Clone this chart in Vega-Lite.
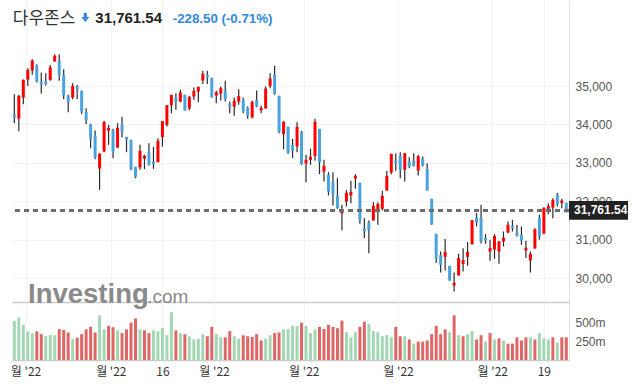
{
  "$schema": "https://vega.github.io/schema/vega-lite/v6.json",
  "padding": {"left": 10, "top": 0, "right": 0, "bottom": 0},
  "background": "white",
  "config": {"view": {"stroke": null}, "font": "Liberation Sans", "scale": {"continuousPadding": 0}},
  "datasets": {
    "ohlc": [
      {"i":0,"t":"01-27","o":34276,"h":34788,"l":34033,"c":34189,"d":"down","v":518,"vd":"g"},
      {"i":1,"t":"01-28","o":34155,"h":34771,"l":33825,"c":34745,"d":"up","v":565,"vd":"g"},
      {"i":2,"t":"01-31","o":34701,"h":35170,"l":34528,"c":35162,"d":"up","v":468,"vd":"g"},
      {"i":3,"t":"02-01","o":35170,"h":35465,"l":35000,"c":35422,"d":"up","v":380,"vd":"g"},
      {"i":4,"t":"02-02","o":35405,"h":35700,"l":35292,"c":35665,"d":"up","v":357,"vd":"g"},
      {"i":5,"t":"02-03","o":35544,"h":35570,"l":35092,"c":35118,"d":"down","v":380,"vd":"r"},
      {"i":6,"t":"02-04","o":35110,"h":35353,"l":34806,"c":35040,"d":"down","v":343,"vd":"r"},
      {"i":7,"t":"02-07","o":35127,"h":35335,"l":35014,"c":35057,"d":"down","v":315,"vd":"g"},
      {"i":8,"t":"02-08","o":35162,"h":35552,"l":35136,"c":35491,"d":"up","v":329,"vd":"g"},
      {"i":9,"t":"02-09","o":35639,"h":35830,"l":35639,"c":35787,"d":"up","v":329,"vd":"g"},
      {"i":10,"t":"02-10","o":35656,"h":35830,"l":35136,"c":35274,"d":"down","v":412,"vd":"r"},
      {"i":11,"t":"02-11","o":35292,"h":35439,"l":34658,"c":34754,"d":"down","v":398,"vd":"r"},
      {"i":12,"t":"02-14","o":34728,"h":34771,"l":34320,"c":34580,"d":"down","v":366,"vd":"r"},
      {"i":13,"t":"02-15","o":34702,"h":35075,"l":34658,"c":35005,"d":"up","v":282,"vd":"g"},
      {"i":14,"t":"02-16","o":34988,"h":35031,"l":34658,"c":34910,"d":"down","v":296,"vd":"r"},
      {"i":15,"t":"02-17","o":34875,"h":34884,"l":34268,"c":34337,"d":"down","v":343,"vd":"r"},
      {"i":16,"t":"02-18","o":34328,"h":34424,"l":34007,"c":34111,"d":"down","v":407,"vd":"r"},
      {"i":17,"t":"02-22","o":33998,"h":34016,"l":33382,"c":33617,"d":"down","v":440,"vd":"r"},
      {"i":18,"t":"02-23","o":33712,"h":33842,"l":33096,"c":33139,"d":"down","v":366,"vd":"r"},
      {"i":19,"t":"02-24","o":32853,"h":33243,"l":32297,"c":33243,"d":"up","v":593,"vd":"g"},
      {"i":20,"t":"02-25","o":33295,"h":34094,"l":33278,"c":34068,"d":"up","v":407,"vd":"g"},
      {"i":21,"t":"02-28","o":33842,"h":33990,"l":33469,"c":33912,"d":"up","v":454,"vd":"r"},
      {"i":22,"t":"03-01","o":33842,"h":33886,"l":33122,"c":33295,"d":"down","v":435,"vd":"r"},
      {"i":23,"t":"03-02","o":33400,"h":34033,"l":33382,"c":33912,"d":"up","v":393,"vd":"g"},
      {"i":24,"t":"03-03","o":33990,"h":34198,"l":33660,"c":33808,"d":"down","v":357,"vd":"r"},
      {"i":25,"t":"03-04","o":33677,"h":33677,"l":33278,"c":33608,"d":"down","v":407,"vd":"r"},
      {"i":26,"t":"03-07","o":33599,"h":33599,"l":32809,"c":32827,"d":"down","v":495,"vd":"r"},
      {"i":27,"t":"03-08","o":32896,"h":32896,"l":32601,"c":32636,"d":"down","v":551,"vd":"r"},
      {"i":28,"t":"03-09","o":32879,"h":33469,"l":32818,"c":33313,"d":"up","v":407,"vd":"g"},
      {"i":29,"t":"03-10","o":33113,"h":33209,"l":32835,"c":33183,"d":"up","v":393,"vd":"r"},
      {"i":30,"t":"03-11","o":33278,"h":33512,"l":32931,"c":32948,"d":"down","v":357,"vd":"r"},
      {"i":31,"t":"03-14","o":33026,"h":33417,"l":32844,"c":32966,"d":"down","v":393,"vd":"g"},
      {"i":32,"t":"03-15","o":33018,"h":33642,"l":33018,"c":33573,"d":"up","v":380,"vd":"g"},
      {"i":33,"t":"03-16","o":33669,"h":34085,"l":33426,"c":34085,"d":"up","v":426,"vd":"g"},
      {"i":34,"t":"03-17","o":33990,"h":34502,"l":33946,"c":34502,"d":"up","v":329,"vd":"g"},
      {"i":35,"t":"03-18","o":34502,"h":34771,"l":34294,"c":34771,"d":"up","v":634,"vd":"g"},
      {"i":36,"t":"03-21","o":34693,"h":34814,"l":34380,"c":34580,"d":"down","v":393,"vd":"r"},
      {"i":37,"t":"03-22","o":34597,"h":34901,"l":34580,"c":34832,"d":"up","v":357,"vd":"g"},
      {"i":38,"t":"03-23","o":34771,"h":34771,"l":34363,"c":34363,"d":"down","v":343,"vd":"r"},
      {"i":39,"t":"03-24","o":34415,"h":34745,"l":34372,"c":34719,"d":"up","v":315,"vd":"g"},
      {"i":40,"t":"03-25","o":34728,"h":34962,"l":34641,"c":34875,"d":"up","v":273,"vd":"g"},
      {"i":41,"t":"03-28","o":34858,"h":34979,"l":34580,"c":34979,"d":"up","v":282,"vd":"g"},
      {"i":42,"t":"03-29","o":35144,"h":35396,"l":35057,"c":35318,"d":"up","v":343,"vd":"g"},
      {"i":43,"t":"03-30","o":35292,"h":35396,"l":35057,"c":35222,"d":"down","v":315,"vd":"r"},
      {"i":44,"t":"03-31","o":35214,"h":35214,"l":34702,"c":34702,"d":"down","v":440,"vd":"r"},
      {"i":45,"t":"04-01","o":34754,"h":34875,"l":34554,"c":34840,"d":"up","v":343,"vd":"g"},
      {"i":46,"t":"04-04","o":34806,"h":34988,"l":34623,"c":34944,"d":"up","v":301,"vd":"g"},
      {"i":47,"t":"04-05","o":34901,"h":35136,"l":34597,"c":34658,"d":"down","v":301,"vd":"r"},
      {"i":48,"t":"04-06","o":34528,"h":34597,"l":34294,"c":34458,"d":"down","v":384,"vd":"r"},
      {"i":49,"t":"04-07","o":34467,"h":34702,"l":34224,"c":34615,"d":"up","v":315,"vd":"g"},
      {"i":50,"t":"04-08","o":34597,"h":34918,"l":34511,"c":34736,"d":"up","v":282,"vd":"g"},
      {"i":51,"t":"04-11","o":34641,"h":34702,"l":34294,"c":34337,"d":"down","v":329,"vd":"r"},
      {"i":52,"t":"04-12","o":34432,"h":34467,"l":34146,"c":34233,"d":"down","v":315,"vd":"r"},
      {"i":53,"t":"04-13","o":34181,"h":34615,"l":34163,"c":34589,"d":"up","v":306,"vd":"r"},
      {"i":54,"t":"04-14","o":34641,"h":34884,"l":34450,"c":34467,"d":"down","v":343,"vd":"r"},
      {"i":55,"t":"04-18","o":34372,"h":34493,"l":34294,"c":34432,"d":"up","v":259,"vd":"r"},
      {"i":56,"t":"04-19","o":34415,"h":34988,"l":34415,"c":34936,"d":"up","v":282,"vd":"g"},
      {"i":57,"t":"04-20","o":34997,"h":35335,"l":34945,"c":35196,"d":"up","v":329,"vd":"g"},
      {"i":58,"t":"04-21","o":35292,"h":35526,"l":34771,"c":34797,"d":"down","v":357,"vd":"r"},
      {"i":59,"t":"04-22","o":34745,"h":34745,"l":33773,"c":33807,"d":"down","v":366,"vd":"r"},
      {"i":60,"t":"04-25","o":33747,"h":34094,"l":33356,"c":34068,"d":"up","v":407,"vd":"g"},
      {"i":61,"t":"04-26","o":33938,"h":33938,"l":33235,"c":33252,"d":"down","v":412,"vd":"g"},
      {"i":62,"t":"04-27","o":33469,"h":33625,"l":33122,"c":33321,"d":"down","v":454,"vd":"g"},
      {"i":63,"t":"04-28","o":33426,"h":34059,"l":33278,"c":33938,"d":"up","v":454,"vd":"g"},
      {"i":64,"t":"04-29","o":33799,"h":33834,"l":32948,"c":32974,"d":"down","v":495,"vd":"r"},
      {"i":65,"t":"05-02","o":32983,"h":33209,"l":32497,"c":33078,"d":"up","v":454,"vd":"g"},
      {"i":66,"t":"05-03","o":33078,"h":33365,"l":32948,"c":33157,"d":"up","v":357,"vd":"g"},
      {"i":67,"t":"05-04","o":33182,"h":34146,"l":33052,"c":34068,"d":"up","v":407,"vd":"g"},
      {"i":68,"t":"05-05","o":33885,"h":33885,"l":32705,"c":33018,"d":"down","v":440,"vd":"r"},
      {"i":69,"t":"05-06","o":32774,"h":33078,"l":32514,"c":32922,"d":"up","v":412,"vd":"r"},
      {"i":70,"t":"05-09","o":32688,"h":32757,"l":32150,"c":32254,"d":"down","v":468,"vd":"r"},
      {"i":71,"t":"05-10","o":32506,"h":32757,"l":31889,"c":32167,"d":"down","v":440,"vd":"r"},
      {"i":72,"t":"05-11","o":32141,"h":32601,"l":31802,"c":31820,"d":"down","v":421,"vd":"r"},
      {"i":73,"t":"05-12","o":31681,"h":31906,"l":31247,"c":31759,"d":"up","v":523,"vd":"r"},
      {"i":74,"t":"05-13","o":31993,"h":32289,"l":31863,"c":32219,"d":"up","v":370,"vd":"g"},
      {"i":75,"t":"05-16","o":32150,"h":32532,"l":31950,"c":32245,"d":"up","v":301,"vd":"g"},
      {"i":76,"t":"05-17","o":32592,"h":32705,"l":32323,"c":32662,"d":"up","v":370,"vd":"g"},
      {"i":77,"t":"05-18","o":32480,"h":32480,"l":31412,"c":31499,"d":"down","v":440,"vd":"r"},
      {"i":78,"t":"05-19","o":31282,"h":31559,"l":31039,"c":31212,"d":"down","v":509,"vd":"r"},
      {"i":79,"t":"05-20","o":31438,"h":31499,"l":30648,"c":31256,"d":"down","v":481,"vd":"g"},
      {"i":80,"t":"05-23","o":31499,"h":31976,"l":31499,"c":31881,"d":"up","v":384,"vd":"g"},
      {"i":81,"t":"05-24","o":31724,"h":31976,"l":31386,"c":31924,"d":"up","v":370,"vd":"g"},
      {"i":82,"t":"05-25","o":31803,"h":32271,"l":31759,"c":32141,"d":"up","v":315,"vd":"g"},
      {"i":83,"t":"05-26","o":32280,"h":32792,"l":32280,"c":32662,"d":"up","v":329,"vd":"g"},
      {"i":84,"t":"05-27","o":32749,"h":33235,"l":32705,"c":33235,"d":"up","v":301,"vd":"g"},
      {"i":85,"t":"05-31","o":33052,"h":33252,"l":32792,"c":32983,"d":"down","v":440,"vd":"r"},
      {"i":86,"t":"06-01","o":33182,"h":33278,"l":32601,"c":32818,"d":"down","v":315,"vd":"r"},
      {"i":87,"t":"06-02","o":32818,"h":33252,"l":32514,"c":33252,"d":"up","v":315,"vd":"g"},
      {"i":88,"t":"06-03","o":33035,"h":33148,"l":32861,"c":32896,"d":"down","v":273,"vd":"r"},
      {"i":89,"t":"06-06","o":33061,"h":33252,"l":32905,"c":32931,"d":"down","v":217,"vd":"g"},
      {"i":90,"t":"06-07","o":32801,"h":33209,"l":32671,"c":33174,"d":"up","v":245,"vd":"r"},
      {"i":91,"t":"06-08","o":33104,"h":33165,"l":32905,"c":32931,"d":"down","v":245,"vd":"r"},
      {"i":92,"t":"06-09","o":32844,"h":32992,"l":32280,"c":32280,"d":"down","v":259,"vd":"r"},
      {"i":93,"t":"06-10","o":32063,"h":32063,"l":31386,"c":31395,"d":"down","v":343,"vd":"r"},
      {"i":94,"t":"06-13","o":31151,"h":31151,"l":30388,"c":30509,"d":"down","v":454,"vd":"r"},
      {"i":95,"t":"06-14","o":30596,"h":30691,"l":30144,"c":30344,"d":"down","v":343,"vd":"r"},
      {"i":96,"t":"06-15","o":30552,"h":31013,"l":30197,"c":30674,"d":"up","v":407,"vd":"r"},
      {"i":97,"t":"06-16","o":30318,"h":30318,"l":29928,"c":29936,"d":"down","v":370,"vd":"g"},
      {"i":98,"t":"06-17","o":29806,"h":30144,"l":29650,"c":29875,"d":"up","v":593,"vd":"r"},
      {"i":99,"t":"06-21","o":30066,"h":30630,"l":30066,"c":30518,"d":"up","v":329,"vd":"g"},
      {"i":100,"t":"06-22","o":30362,"h":30778,"l":30171,"c":30466,"d":"up","v":315,"vd":"r"},
      {"i":101,"t":"06-23","o":30552,"h":30934,"l":30318,"c":30683,"d":"up","v":343,"vd":"g"},
      {"i":102,"t":"06-24","o":30882,"h":31507,"l":30865,"c":31507,"d":"up","v":384,"vd":"g"},
      {"i":103,"t":"06-27","o":31577,"h":31690,"l":31342,"c":31455,"d":"down","v":273,"vd":"r"},
      {"i":104,"t":"06-28","o":31559,"h":31907,"l":30900,"c":30952,"d":"down","v":329,"vd":"r"},
      {"i":105,"t":"06-29","o":31047,"h":31143,"l":30891,"c":30978,"d":"down","v":245,"vd":"g"},
      {"i":106,"t":"06-30","o":30691,"h":30995,"l":30448,"c":30778,"d":"up","v":357,"vd":"r"},
      {"i":107,"t":"07-01","o":30743,"h":31143,"l":30500,"c":31091,"d":"up","v":273,"vd":"g"},
      {"i":108,"t":"07-05","o":30691,"h":30969,"l":30370,"c":30952,"d":"up","v":287,"vd":"r"},
      {"i":109,"t":"07-06","o":30952,"h":31212,"l":30821,"c":31047,"d":"up","v":259,"vd":"g"},
      {"i":110,"t":"07-07","o":31186,"h":31473,"l":31169,"c":31386,"d":"up","v":217,"vd":"r"},
      {"i":111,"t":"07-08","o":31360,"h":31516,"l":31212,"c":31290,"d":"down","v":217,"vd":"r"},
      {"i":112,"t":"07-11","o":31178,"h":31386,"l":31082,"c":31108,"d":"down","v":301,"vd":"r"},
      {"i":113,"t":"07-12","o":31117,"h":31342,"l":30865,"c":30978,"d":"down","v":259,"vd":"r"},
      {"i":114,"t":"07-13","o":30717,"h":30969,"l":30518,"c":30787,"d":"up","v":301,"vd":"r"},
      {"i":115,"t":"07-14","o":30457,"h":30691,"l":30144,"c":30630,"d":"up","v":301,"vd":"g"},
      {"i":116,"t":"07-15","o":30770,"h":31299,"l":30761,"c":31273,"d":"up","v":273,"vd":"r"},
      {"i":117,"t":"07-18","o":31568,"h":31646,"l":30995,"c":31082,"d":"down","v":357,"vd":"g"},
      {"i":118,"t":"07-19","o":31160,"h":31846,"l":31143,"c":31829,"d":"up","v":287,"vd":"g"},
      {"i":119,"t":"07-20","o":31802,"h":31941,"l":31664,"c":31872,"d":"up","v":273,"vd":"g"},
      {"i":120,"t":"07-21","o":31837,"h":32080,"l":31559,"c":32037,"d":"up","v":301,"vd":"r"},
      {"i":121,"t":"07-22","o":32167,"h":32219,"l":31863,"c":31924,"d":"down","v":231,"vd":"g"},
      {"i":122,"t":"07-25","o":31950,"h":32063,"l":31820,"c":32019,"d":"up","v":301,"vd":"r"},
      {"i":123,"t":"07-26","o":31959,"h":31959,"l":31707,"c":31761.54,"d":"down","v":301,"vd":"r"}
    ]
  },
  "spacing": 0,
  "bounds": "flush",
  "resolve": {"scale": {"x": "independent", "y": "independent", "color": "independent"}},
  "vconcat": [
    {
      "width": 557,
      "height": 302,
      "data": {"name": "ohlc"},
      "layer": [
        {
          "data": {"values": [{"label": "Investing"}]},
          "mark": {"type": "text", "align": "left", "baseline": "alphabetic", "font": "Liberation Sans", "fontWeight": "bold", "fontSize": 27.5, "color": "#8a8a8a"},
          "encoding": {
            "x": {"datum": 3.05, "type": "quantitative", "title": null},
            "y": {"datum": 29350, "type": "quantitative", "title": null},
            "text": {"field": "label"}
          }
        },
        {
          "data": {"values": [{"label": ".com"}]},
          "mark": {"type": "text", "align": "left", "baseline": "alphabetic", "font": "Liberation Sans", "fontSize": 19, "color": "#8a8a8a"},
          "encoding": {
            "x": {"datum": 29.6, "type": "quantitative", "title": null},
            "y": {"datum": 29350, "type": "quantitative", "title": null},
            "text": {"field": "label"}
          }
        },
        {
          "mark": {"type": "rule", "color": "#2b2b2b", "strokeWidth": 1.2},
          "encoding": {
            "x": {
              "field": "i", "type": "quantitative", "title": null,
              "scale": {"domain": [-0.52, 123.6], "nice": false, "zero": false, "padding": 0},
              "axis": {
                "orient": "bottom", "values": [2.5, 21.5, 33, 44.5, 64.5, 85.5, 106.5, 118],
                "labels": false, "ticks": false, "grid": true, "gridColor": "#f3f3f3",
                "domain": true, "domainColor": "#cccccc", "domainWidth": 1.5, "title": null
              }
            },
            "y": {
              "field": "l", "type": "quantitative", "title": null,
              "scale": {"domain": [29375, 37242], "nice": false, "zero": false},
              "axis": {
                "orient": "right", "values": [30000, 31000, 32000, 33000, 34000, 35000],
                "labelExpr": "format(datum.value, ',')",
                "ticks": false, "labelPadding": 6, "labelFontSize": 12, "labelColor": "#555555",
                "labelFont": "Liberation Sans", "grid": true, "gridColor": "#f3f3f3",
                "domain": true, "domainColor": "#dddddd", "title": null
              }
            },
            "y2": {"field": "h"}
          }
        },
        {
          "mark": {"type": "bar", "width": 3},
          "encoding": {
            "x": {"field": "i", "type": "quantitative"},
            "y": {"field": "o", "type": "quantitative"},
            "y2": {"field": "c"},
            "color": {
              "field": "d", "type": "nominal", "legend": null,
              "scale": {"domain": ["up", "down"], "range": ["#ff0000", "#4aa3df"]}
            }
          }
        },
        {
          "mark": {"type": "rule", "color": "#6e6e6e", "strokeWidth": 1.5, "strokeDash": [5, 4]},
          "encoding": {"y": {"datum": 31761.54, "type": "quantitative"}}
        },
        {
          "data": {"values": [{"label": "tag"}]},
          "mark": {"type": "point", "shape": "M0,-0.32L2,-0.32L2,0.32L0,0.32Z", "size": 3481, "filled": true, "opacity": 1, "color": "#222222", "strokeWidth": 0},
          "encoding": {
            "x": {"datum": 123.6, "type": "quantitative"},
            "y": {"datum": 31761.54, "type": "quantitative"}
          }
        },
        {
          "data": {"values": [{"label": "31,761.54"}]},
          "mark": {"type": "text", "align": "left", "baseline": "middle", "dx": 5, "font": "Liberation Sans", "fontWeight": "bold", "fontSize": 12, "color": "#ffffff"},
          "encoding": {
            "x": {"datum": 123.6, "type": "quantitative"},
            "y": {"datum": 31761.54, "type": "quantitative"},
            "text": {"field": "label"}
          }
        },
        {
          "data": {"values": [{"label": "다우존스"}]},
          "mark": {"type": "text", "align": "left", "baseline": "alphabetic", "font": "Noto Sans CJK KR", "fontSize": 17, "color": "#333333"},
          "encoding": {
            "x": {"datum": -0.35, "type": "quantitative"},
            "y": {"datum": 36620, "type": "quantitative"},
            "text": {"field": "label"}
          }
        },
        {
          "data": {"values": [{"label": "arrow"}]},
          "mark": {"type": "point", "shape": "M-0.4,-1.1L0.4,-1.1L0.4,-0.1L1,-0.1L0,1.1L-1,-0.1L-0.4,-0.1Z", "size": 64, "filled": true, "opacity": 1, "color": "#2f89e3", "strokeWidth": 0},
          "encoding": {
            "x": {"datum": 15.81, "type": "quantitative"},
            "y": {"datum": 36786, "type": "quantitative"}
          }
        },
        {
          "data": {"values": [{"label": "31,761.54"}]},
          "mark": {"type": "text", "align": "left", "baseline": "alphabetic", "font": "Liberation Sans", "fontWeight": "bold", "fontSize": 15, "color": "#222222"},
          "encoding": {
            "x": {"datum": 18.04, "type": "quantitative"},
            "y": {"datum": 36651, "type": "quantitative"},
            "text": {"field": "label"}
          }
        },
        {
          "data": {"values": [{"label": "-228.50 (-0.71%)"}]},
          "mark": {"type": "text", "align": "left", "baseline": "alphabetic", "font": "Liberation Sans", "fontWeight": "bold", "fontSize": 13.3, "color": "#2f89e3"},
          "encoding": {
            "x": {"datum": 35.29, "type": "quantitative"},
            "y": {"datum": 36651, "type": "quantitative"},
            "text": {"field": "label"}
          }
        }
      ]
    },
    {
      "width": 557,
      "height": 58,
      "data": {"name": "ohlc"},
      "mark": {"type": "bar", "width": 3},
      "encoding": {
        "x": {
          "field": "i", "type": "quantitative", "title": null,
          "scale": {"domain": [-0.52, 123.6], "nice": false, "zero": false, "padding": 0},
          "axis": {
            "orient": "bottom", "values": [2.5, 21.5, 33, 44.5, 64.5, 85.5, 106.5, 118],
            "labelExpr": "datum.value == 33 ? '16' : datum.value == 118 ? '19' : \"월 '22\"",
            "labelFont": "Noto Sans CJK KR", "labelFontSize": 12, "labelColor": "#333333",
            "labelPadding": 6, "labelOverlap": false, "labelFlush": false,
            "ticks": false, "grid": true, "gridColor": "#f3f3f3",
            "domain": true, "domainColor": "#cccccc", "domainWidth": 1.5, "title": null
          }
        },
        "y": {
          "field": "v", "type": "quantitative", "title": null,
          "scale": {"domain": [0, 770], "nice": false, "zero": true},
          "axis": {
            "orient": "right", "values": [250, 500], "labelExpr": "datum.value + 'm'",
            "ticks": false, "labelPadding": 6, "labelFontSize": 12, "labelColor": "#555555",
            "labelFont": "Liberation Sans", "grid": false,
            "domain": true, "domainColor": "#dddddd", "title": null
          }
        },
        "color": {
          "field": "vd", "type": "nominal", "legend": null,
          "scale": {"domain": ["g", "r"], "range": ["#a3d7b3", "#e06666"]}
        }
      }
    }
  ]
}
